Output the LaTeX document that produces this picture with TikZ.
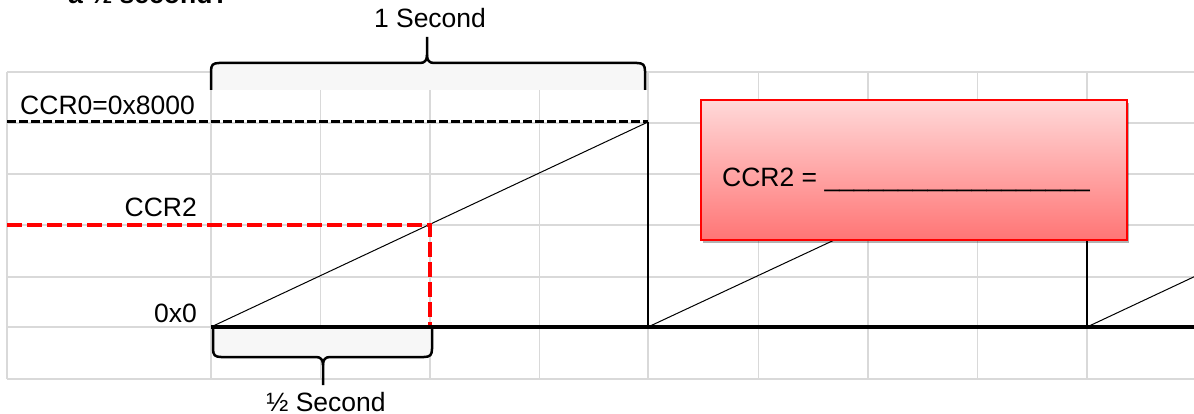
\documentclass[tikz,border=0pt]{standalone}
\usepackage{fontspec}
\setmainfont{Liberation Sans}
\usetikzlibrary{shadows}
\definecolor{gridgray}{HTML}{D9D9D9}
\definecolor{bracefill}{HTML}{F7F7F7}
\definecolor{boxtop}{HTML}{FFD9D9}
\definecolor{boxbot}{HTML}{FF7575}
\definecolor{boxred}{HTML}{FF0000}
\begin{document}
\begin{tikzpicture}[x=1pt,y=-1pt,
  gridline/.style={draw=gridgray,line width=1.5pt},
  lbl/.style={inner sep=0pt,font=\fontsize{26.5}{30}\selectfont},
  titlelbl/.style={inner sep=0pt,font=\fontsize{26.5}{30}\selectfont\bfseries},
  ramp/.style={draw=black,line width=1pt},
  drop/.style={draw=black,line width=2pt},
  baseline/.style={draw=black,line width=3.5pt},
  maxdash/.style={draw=black,line width=3pt,dash pattern=on 9pt off 3pt},
  cmpdash/.style={draw=red,line width=4pt,dash pattern=on 15pt off 5pt},
  bracestyle/.style={draw=black,line width=2.5pt,line join=round},
  bracebg/.style={fill=bracefill,draw=none},
  answerbox/.style={draw=boxred,line width=1.8pt,top color=boxtop,bottom color=boxbot,
    minimum width=426pt,minimum height=140pt,inner sep=0pt,
    drop shadow={shadow xshift=2pt,shadow yshift=-3pt,opacity=0.3,fill=black}}
]
\useasboundingbox (0,0) rectangle (1194,414);

% title (cut off at the top)
\node[titlelbl,anchor=base west] (title) at (68,4) {a ½ second?};

% grid
\foreach \y in {72,123,174,225,277,327,379}
  \draw[gridline] (7,\y) -- (1194,\y);
\foreach \x in {7,211,320.5,430,539.5,648,758.5,868,977.5,1087}
  \draw[gridline] (\x,72) -- (\x,379);

% brace backgrounds
\fill[bracebg] (211,63) rectangle (645,90);
\fill[bracebg] (213,327) rectangle (432,357);

% key points
\coordinate (o) at (211,327);
\coordinate (p1) at (648,122);
\coordinate (b1) at (648,327);
\coordinate (p2) at (1087,122);
\coordinate (b2) at (1087,327);
\coordinate (r3) at (1194,276.8);
\coordinate (e) at (1194,327);
\coordinate (maxl) at (7,122);
\coordinate (cmpl) at (7,225);
\coordinate (cmpc) at (430,225);
\coordinate (cmpb) at (430,327);

% sawtooth
\draw[ramp] (o) -- (p1);
\draw[ramp] (b1) -- (p2);
\draw[ramp] (b2) -- (r3);

% compare level
\draw[cmpdash] (cmpl) -- (cmpc) -- (cmpb);
% max level
\draw[maxdash] (maxl) -- (p1);

% drops
\draw[drop] (p1) -- (b1);
\draw[drop] (p2) -- (b2);

% baseline
\draw[baseline] (o) -- (e);

% top brace
\draw[bracestyle] (211,90) -- (211,71) .. controls (211,65) and (213,63) .. (219,63)
  -- (420,63) .. controls (425,63) and (427,60) .. (427,55) -- (427,37);
\draw[bracestyle] (427,55) .. controls (427,60) and (429,63) .. (434,63)
  -- (637,63) .. controls (643,63) and (645,65) .. (645,71) -- (645,90);
% bottom brace
\draw[bracestyle] (213,327) -- (213,349) .. controls (213,355) and (215,357) .. (221,357)
  -- (316,357) .. controls (321,357) and (323,360) .. (323,365) -- (323,385);
\draw[bracestyle] (323,365) .. controls (323,360) and (325,357) .. (330,357)
  -- (424,357) .. controls (430,357) and (432,355) .. (432,349) -- (432,327);

% answer box
\node[answerbox] (ccrbox) at (914,170) {};
\node[lbl,anchor=base west] (ccrtxt) at (722,187) {CCR2 = \_\_\_\_\_\_\_\_\_\_\_\_\_\_\_\_\_\_};

% labels
\node[lbl,anchor=base] (onesec) at (430,28) {1 Second};
\node[lbl,anchor=base] (halfsec) at (326,411) {½ Second};
\node[lbl,anchor=base east] (ccr0lbl) at (195,115) {CCR0=0x8000};
\node[lbl,anchor=base east] (ccr2lbl) at (197,217) {CCR2};
\node[lbl,anchor=base east] (zerolbl) at (197,322) {0x0};
\end{tikzpicture}
\end{document}
